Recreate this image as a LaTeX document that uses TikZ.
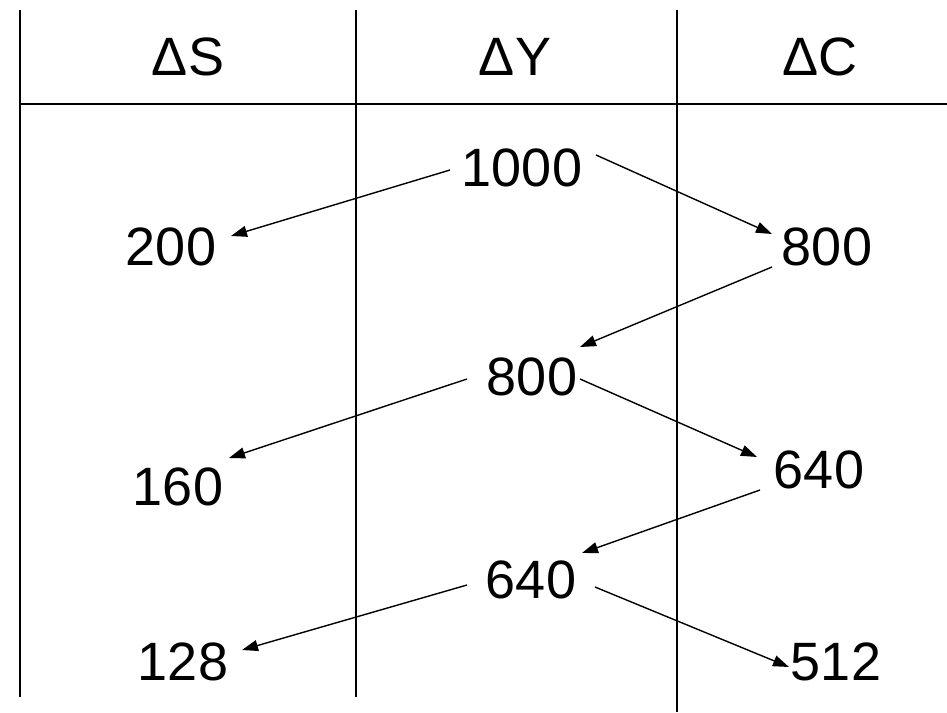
\documentclass[tikz,border=0pt]{standalone}
\usepackage{fontspec}
\setmainfont{Liberation Sans}
\usetikzlibrary{arrows.meta}
\begin{document}
\begin{tikzpicture}[x=1pt,y=-1pt,
  rule/.style={line width=2pt},
  val/.style={inner sep=0pt,anchor=center,font=\fontsize{54}{54}\selectfont},
  arr/.style={line width=1.4pt,-{Triangle[length=16pt,width=11pt]}}]
\useasboundingbox (0,0) rectangle (947,712);
% table rules
\draw[rule] (20,10) -- (20,697);
\draw[rule] (356,10) -- (356,697);
\draw[rule] (677,10) -- (677,712);
\draw[rule] (20,104) -- (947,104);
% headers
\node[val] (hS) at (188,57) {ΔS};
\node[val] (hY) at (515,57) {ΔY};
\node[val] (hC) at (820,57) {ΔC};
% values
\node[val] (y1) at (522,168) {1000};
\node[val] (s1) at (171,247) {200};
\node[val] (c1) at (827,247) {800};
\node[val] (y2) at (532,377) {800};
\node[val] (s2) at (178,487) {160};
\node[val] (c2) at (819,470) {640};
\node[val] (y3) at (531,580) {640};
\node[val] (s3) at (183,662) {128};
\node[val] (c3) at (836,662) {512};
% arrows
\draw[arr] ([shift={(-72,2)}]y1.center) -- ([shift={(60,-11)}]s1.center);
\draw[arr] ([shift={(74,-13)}]y1.center) -- ([shift={(-55,-13)}]c1.center);
\draw[arr] ([shift={(-55,20)}]c1.center) -- ([shift={(48,-30)}]y2.center);
\draw[arr] ([shift={(-65,2)}]y2.center) -- ([shift={(51,-29)}]s2.center);
\draw[arr] ([shift={(48,2)}]y2.center) -- ([shift={(-62,-13)}]c2.center);
\draw[arr] ([shift={(-59,20)}]c2.center) -- ([shift={(51,-27)}]y3.center);
\draw[arr] ([shift={(-64,5)}]y3.center) -- ([shift={(59,-12)}]s3.center);
\draw[arr] ([shift={(64,7)}]y3.center) -- ([shift={(-47,5)}]c3.center);
\end{tikzpicture}
\end{document}
